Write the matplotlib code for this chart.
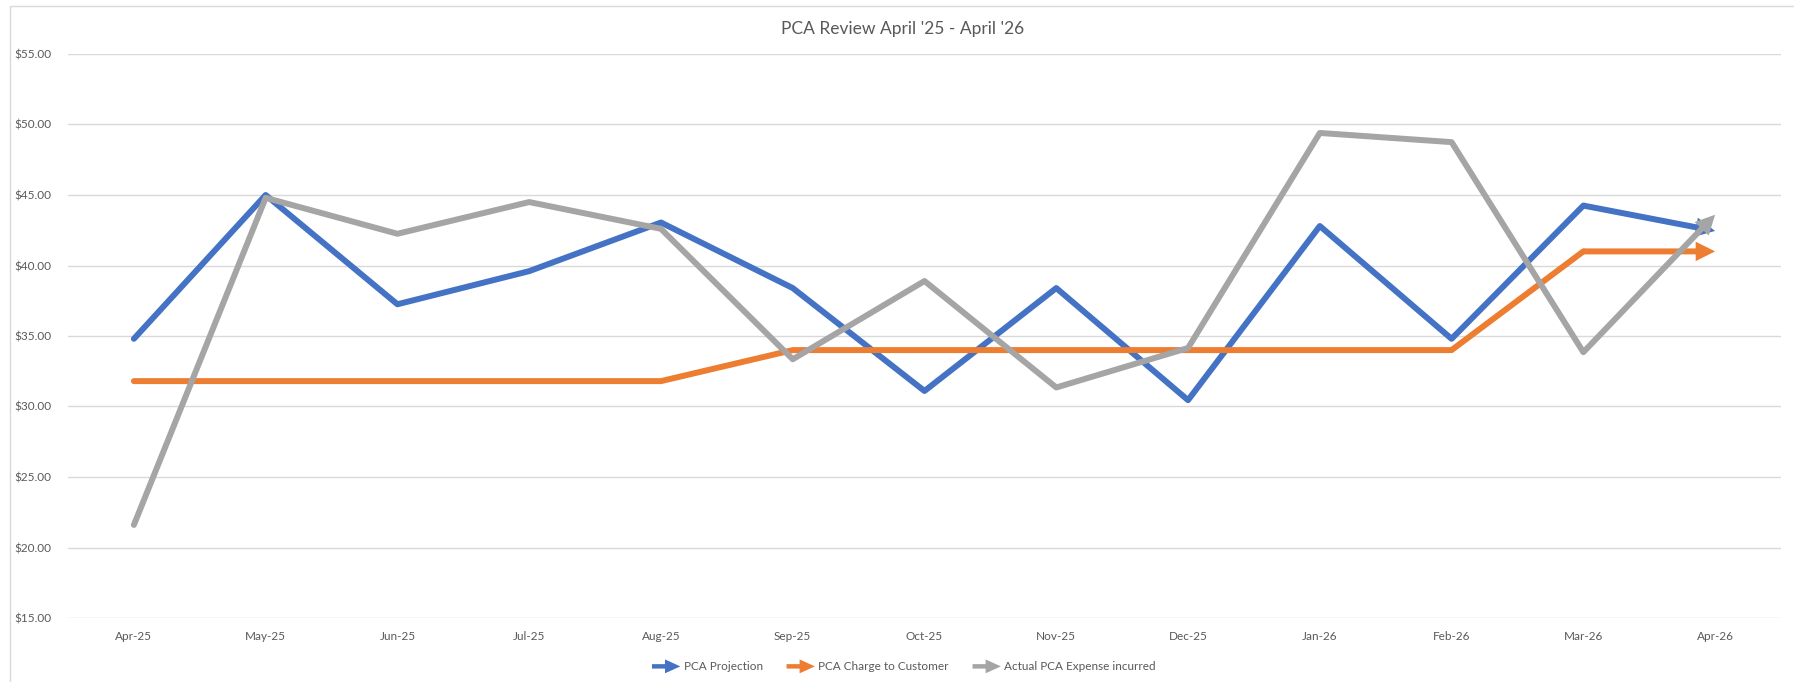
import matplotlib
matplotlib.use("Agg")
import matplotlib.pyplot as plt
from matplotlib.patches import FancyArrowPatch, ArrowStyle, Rectangle
from matplotlib.legend_handler import HandlerBase
from matplotlib.lines import Line2D

plt.rcParams['font.family'] = ['Lato', 'DejaVu Sans']

months = ["Apr-25", "May-25", "Jun-25", "Jul-25", "Aug-25", "Sep-25", "Oct-25",
          "Nov-25", "Dec-25", "Jan-26", "Feb-26", "Mar-26", "Apr-26"]
projection = [34.80, 45.00, 37.25, 39.60, 43.05, 38.40, 31.10, 38.40, 30.45, 42.80, 34.80, 44.25, 42.45]
charge = [31.80, 31.80, 31.80, 31.80, 31.80, 34.00, 34.00, 34.00, 34.00, 34.00, 34.00, 41.00, 41.00]
actual = [21.60, 44.80, 42.25, 44.50, 42.60, 33.35, 38.90, 31.35, 34.15, 49.40, 48.75, 33.85, 43.60]
series_names = ["PCA Projection", "PCA Charge to Customer", "Actual PCA Expense incurred"]
series_colors = ["#4472C4", "#ED7D31", "#A5A5A5"]
yticks = [15, 20, 25, 30, 35, 40, 45, 50, 55]
title = "PCA Review April '25 - April '26"

W, H = 1794, 682
fig = plt.figure(figsize=(W / 100, H / 100), dpi=100)
ax = fig.add_axes([68 / W, 1 - 618 / H, (1781 - 68) / W, (618 - 54) / H])

LW = 4.3
style = ArrowStyle.Simple(head_length=14, head_width=14, tail_width=LW)

x = list(range(len(months)))
for vals, color in zip([projection, charge, actual], series_colors):
    ax.plot(x[:-1], vals[:-1], color=color, lw=LW, solid_capstyle='round',
            solid_joinstyle='round', zorder=3)
    arr = FancyArrowPatch((x[-2], vals[-2]), (x[-1], vals[-1]), arrowstyle=style,
                          mutation_scale=1, lw=0, color=color, zorder=3,
                          shrinkA=0, shrinkB=0)
    ax.add_patch(arr)

ax.set_xlim(-0.5, len(months) - 0.5)
ax.set_ylim(15, 55)
ax.set_yticks(yticks)
ax.set_yticklabels([f"${v:.2f}" for v in yticks])
ax.set_xticks(x)
ax.set_xticklabels(months)
ax.tick_params(axis='both', length=0, colors='#595959', labelsize=8.5)
ax.tick_params(axis='y', pad=12)
ax.tick_params(axis='x', pad=9)
ax.grid(axis='y', color='#D9D9D9', lw=1)
ax.set_axisbelow(True)
for s in ax.spines.values():
    s.set_visible(False)

fig.text(0.503, 1 - 29 / H, title, ha='center', va='center', fontsize=12.5, color='#595959')


class HandlerArrow(HandlerBase):
    def create_artists(self, legend, orig_handle, xdescent, ydescent, width, height, fontsize, trans):
        y = height / 2 - ydescent
        p = FancyArrowPatch((-xdescent, y), (-xdescent + width, y),
                            arrowstyle=ArrowStyle.Simple(head_length=11, head_width=10, tail_width=3.2),
                            mutation_scale=1, lw=0, color=orig_handle.get_color(),
                            shrinkA=0, shrinkB=0, transform=trans)
        return [p]


handles = [Line2D([], [], color=c) for c in series_colors]
leg = fig.legend(handles, series_names, loc='center', bbox_to_anchor=(904 / W, 1 - 667 / H),
                 ncol=3, frameon=False, fontsize=8.5, handlelength=2.4, handletextpad=0.3,
                 columnspacing=2.0, labelcolor='#595959',
                 handler_map={h: HandlerArrow() for h in handles})

fig.patches.append(Rectangle((10 / W, -0.1), 1.2, (1 - 6 / H) + 0.1, transform=fig.transFigure,
                             fill=False, edgecolor='#D9D9D9', lw=1))

fig.savefig("out.png", dpi=100)
